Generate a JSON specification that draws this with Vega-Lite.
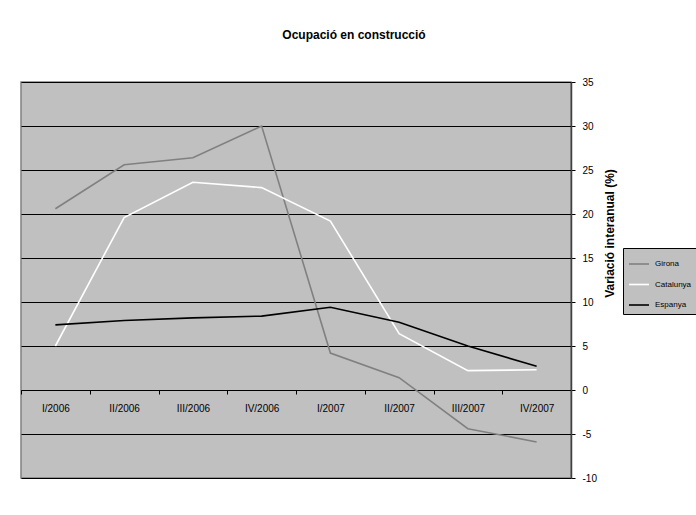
{
  "$schema": "https://vega.github.io/schema/vega-lite/v6.json",
  "width": 550,
  "height": 396,
  "autosize": {"type": "none"},
  "padding": {"left": 21, "top": 82, "right": 125, "bottom": 37},
  "background": "white",
  "title": {
    "text": "Ocupació en construcció",
    "font": "Liberation Sans",
    "fontSize": 12,
    "fontWeight": "bold",
    "color": "black",
    "anchor": "middle",
    "frame": "group",
    "dx": 58,
    "offset": 26,
    "baseline": "alphabetic"
  },
  "data": {
    "values": [
      {"trimestre": "I/2006", "zona": "Girona", "variacio": 20.6},
      {"trimestre": "II/2006", "zona": "Girona", "variacio": 25.6},
      {"trimestre": "III/2006", "zona": "Girona", "variacio": 26.4},
      {"trimestre": "IV/2006", "zona": "Girona", "variacio": 30.0},
      {"trimestre": "I/2007", "zona": "Girona", "variacio": 4.2},
      {"trimestre": "II/2007", "zona": "Girona", "variacio": 1.4},
      {"trimestre": "III/2007", "zona": "Girona", "variacio": -4.4},
      {"trimestre": "IV/2007", "zona": "Girona", "variacio": -5.9},
      {"trimestre": "I/2006", "zona": "Catalunya", "variacio": 5.0},
      {"trimestre": "II/2006", "zona": "Catalunya", "variacio": 19.6},
      {"trimestre": "III/2006", "zona": "Catalunya", "variacio": 23.6},
      {"trimestre": "IV/2006", "zona": "Catalunya", "variacio": 23.0},
      {"trimestre": "I/2007", "zona": "Catalunya", "variacio": 19.2},
      {"trimestre": "II/2007", "zona": "Catalunya", "variacio": 6.4},
      {"trimestre": "III/2007", "zona": "Catalunya", "variacio": 2.2},
      {"trimestre": "IV/2007", "zona": "Catalunya", "variacio": 2.3},
      {"trimestre": "I/2006", "zona": "Espanya", "variacio": 7.4},
      {"trimestre": "II/2006", "zona": "Espanya", "variacio": 7.9},
      {"trimestre": "III/2006", "zona": "Espanya", "variacio": 8.2},
      {"trimestre": "IV/2006", "zona": "Espanya", "variacio": 8.4},
      {"trimestre": "I/2007", "zona": "Espanya", "variacio": 9.4},
      {"trimestre": "II/2007", "zona": "Espanya", "variacio": 7.7},
      {"trimestre": "III/2007", "zona": "Espanya", "variacio": 5.0},
      {"trimestre": "IV/2007", "zona": "Espanya", "variacio": 2.7}
    ]
  },
  "mark": {"type": "line", "strokeWidth": 1.6},
  "encoding": {
    "x": {
      "field": "trimestre",
      "type": "nominal",
      "sort": ["I/2006", "II/2006", "III/2006", "IV/2006", "I/2007", "II/2007", "III/2007", "IV/2007"],
      "scale": {"type": "band", "paddingInner": 0, "paddingOuter": 0},
      "axis": {
        "title": null,
        "orient": "bottom",
        "offset": -88,
        "labelAngle": 0,
        "labelFont": "Liberation Sans",
        "labelFontSize": 10,
        "labelColor": "black",
        "labelPadding": 9,
        "tickSize": 4,
        "tickColor": "black",
        "tickBand": "extent",
        "domain": true,
        "domainColor": "black",
        "grid": false
      }
    },
    "y": {
      "field": "variacio",
      "type": "quantitative",
      "scale": {"domain": [-10, 35], "nice": false, "zero": false},
      "axis": {
        "orient": "right",
        "values": [-10, -5, 0, 5, 10, 15, 20, 25, 30, 35],
        "labelExpr": "replace(datum.label, '−', '-')",
        "grid": true,
        "gridColor": "black",
        "gridWidth": 1,
        "gridOpacity": 1,
        "domain": true,
        "domainColor": "#404040",
        "domainWidth": 1.5,
        "tickColor": "black",
        "tickSize": 4,
        "labelFont": "Liberation Sans",
        "labelFontSize": 10,
        "labelColor": "black",
        "labelPadding": 7,
        "title": "Variació interanual (%)",
        "titleFont": "Liberation Sans",
        "titleFontSize": 12,
        "titleFontWeight": "bold",
        "titleColor": "black",
        "titleAngle": 270,
        "titleX": 38,
        "titleY": 151,
        "titleAlign": "center",
        "titleBaseline": "middle"
      }
    },
    "color": {
      "field": "zona",
      "type": "nominal",
      "scale": {"domain": ["Girona", "Catalunya", "Espanya"], "range": ["#808080", "#ffffff", "#000000"]},
      "legend": {
        "title": null,
        "orient": "none",
        "legendX": 602,
        "legendY": 166,
        "fillColor": "#c0c0c0",
        "strokeColor": "#000000",
        "padding": 5,
        "rowPadding": 5.5,
        "symbolType": "stroke",
        "symbolSize": 400,
        "symbolStrokeWidth": 1.6,
        "labelFont": "Liberation Sans",
        "labelFontSize": 8,
        "labelColor": "black",
        "labelOffset": 5
      }
    }
  },
  "config": {
    "font": "Liberation Sans",
    "view": {"fill": "#c0c0c0", "stroke": "#808080", "strokeWidth": 1.5}
  }
}
